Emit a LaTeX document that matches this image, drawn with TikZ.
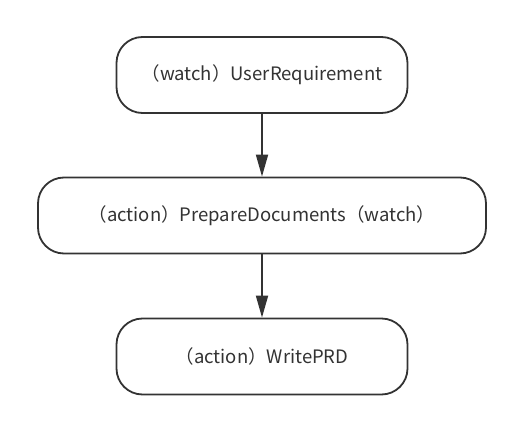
\documentclass[tikz,border=0pt]{standalone}
\usepackage{fontspec}
\setmainfont{Noto Sans CJK SC}
\usetikzlibrary{arrows.meta, positioning}

\definecolor{inkgray}{HTML}{333333}

\begin{document}
\begin{tikzpicture}[
    x=1pt, y=1pt,
    every node/.style={font=\fontsize{18.5}{22}\selectfont, text=inkgray},
    box/.style={rectangle, draw=inkgray, line width=1.8pt, minimum height=76pt, align=center, rounded corners=26pt, fill=white},
    arrow/.style={-{Triangle[length=22pt, width=12pt]}, line width=1.8pt, draw=inkgray}
]

% ============ CANVAS ============
\useasboundingbox (0, 0) rectangle (522, 432);

% ============ NODES ============
\node[box, minimum width=291pt] (user) at (262, 357) {（watch）UserRequirement};
\node[box, minimum width=448pt] (prepare) at (262, 216.5) {（action）PrepareDocuments（watch）};
\node[box, minimum width=291pt] (prd) at (262, 75.5) {（action）WritePRD};

% ============ ARROWS ============
\draw[arrow] (user) -- (prepare);
\draw[arrow] (prepare) -- (prd);

\end{tikzpicture}
\end{document}
